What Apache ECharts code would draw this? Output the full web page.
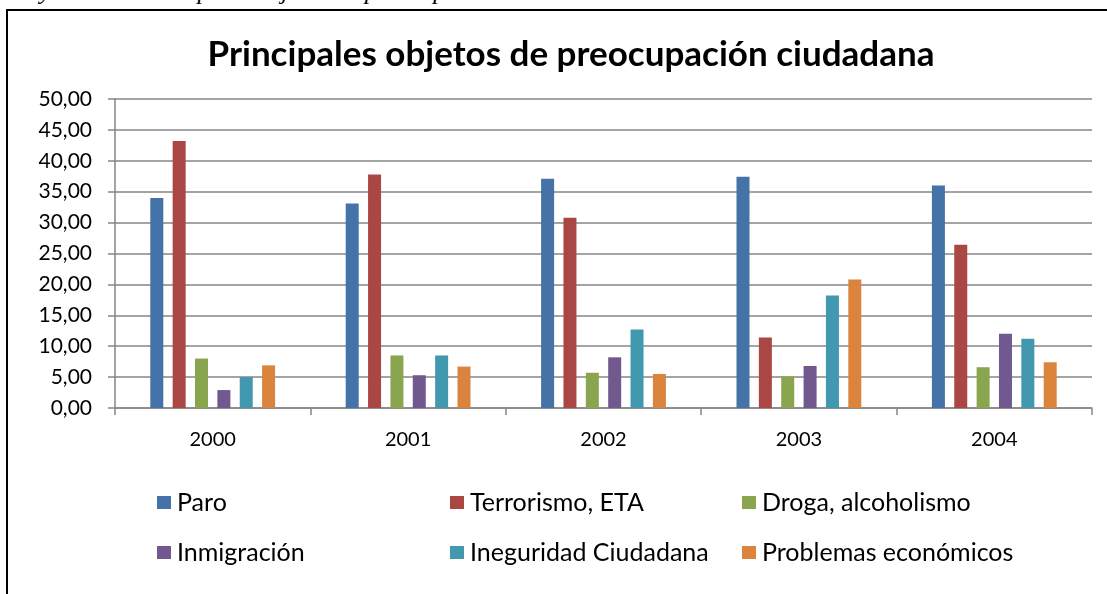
<!DOCTYPE html>
<html>
<head>
<meta charset="utf-8">
<script src="https://cdn.jsdelivr.net/npm/echarts@6/dist/echarts.min.js"></script>
<style>
html,body{margin:0;padding:0;background:#fff;overflow:hidden;}
#wrap{position:relative;width:1107px;height:594px;overflow:hidden;}
#frame{position:absolute;left:6px;top:9px;width:1200px;height:700px;border:2px solid #000;box-sizing:border-box;}
#cap{position:absolute;left:0;top:-22px;height:26px;width:1107px;font-family:"Liberation Serif",serif;font-style:italic;font-size:25px;line-height:25px;white-space:nowrap;color:#000;}
#main{position:absolute;left:0;top:0;width:1107px;height:594px;}
</style>
</head>
<body>
<div id="wrap">
<div id="frame"></div>
<div id="cap"><span style="position:absolute;left:40px">y</span><span style="position:absolute;left:135px">Principales objetos de preocupación ciudadana</span></div>
<div id="main"></div>
</div>
<script>
const title = 'Principales objetos de preocupación ciudadana';
const categories = ['2000', '2001', '2002', '2003', '2004'];
const seriesNames = ['Paro', 'Terrorismo, ETA', 'Droga, alcoholismo', 'Inmigración', 'Ineguridad Ciudadana', 'Problemas económicos'];
const paro        = [34.0, 33.1, 37.1, 37.4, 36.0];
const terrorismo  = [43.2, 37.8, 30.8, 11.4, 26.4];
const droga       = [8.0, 8.5, 5.7, 5.1, 6.6];
const inmigracion = [2.9, 5.3, 8.2, 6.8, 12.0];
const inseguridad = [5.0, 8.5, 12.7, 18.2, 11.2];
const economicos  = [6.9, 6.7, 5.5, 20.8, 7.4];
const yTicks = [0, 5, 10, 15, 20, 25, 30, 35, 40, 45, 50];

const values = [paro, terrorismo, droga, inmigracion, inseguridad, economicos];
const colors = ['#4572A7', '#AA4643', '#89A54E', '#71588F', '#4198AF', '#DB843D'];
const font = 'Lato';

const chart = echarts.init(document.getElementById('main'), null, {renderer: 'canvas'});

const legendPos = [[157, 490], [450, 490], [742, 490], [157, 540], [450, 540], [742, 540]];
const legends = seriesNames.map((n, i) => ({
  data: [n],
  left: legendPos[i][0],
  top: legendPos[i][1],
  itemWidth: 14,
  itemHeight: 13,
  icon: 'rect',
  padding: 0,
  selectedMode: false,
  textStyle: {fontFamily: font, fontSize: 25, color: '#000', padding: [0, 0, 0, 1]}
}));

chart.setOption({
  animation: false,
  title: {
    text: title,
    left: 566,
    top: 32,
    textAlign: 'center',
    textStyle: {fontFamily: font, fontWeight: 'bold', fontSize: 35, color: '#000'}
  },
  legend: legends,
  grid: {left: 115, right: 15, top: 99, bottom: 186, containLabel: false},
  xAxis: {
    type: 'category',
    data: categories,
    axisLine: {lineStyle: {color: '#868686', width: 1.5}},
    axisTick: {show: true, length: 7, lineStyle: {color: '#868686', width: 1.5}},
    axisLabel: {fontFamily: font, fontSize: 20, color: '#000', margin: 22}
  },
  yAxis: {
    type: 'value',
    min: yTicks[0],
    max: yTicks[yTicks.length - 1],
    interval: yTicks[1] - yTicks[0],
    axisLine: {show: true, lineStyle: {color: '#868686', width: 1.5}},
    axisTick: {show: true, length: 7, lineStyle: {color: '#868686', width: 1.5}},
    axisLabel: {fontFamily: font, fontSize: 21, color: '#000', margin: 23,
      formatter: v => v.toFixed(2).replace('.', ',')},
    splitLine: {lineStyle: {color: '#868686', width: 1.5}}
  },
  series: seriesNames.map((n, i) => ({
    name: n,
    type: 'bar',
    data: values[i],
    barWidth: 13,
    barGap: '72%',
    itemStyle: {color: colors[i]}
  }))
});
</script>
</body>
</html>
